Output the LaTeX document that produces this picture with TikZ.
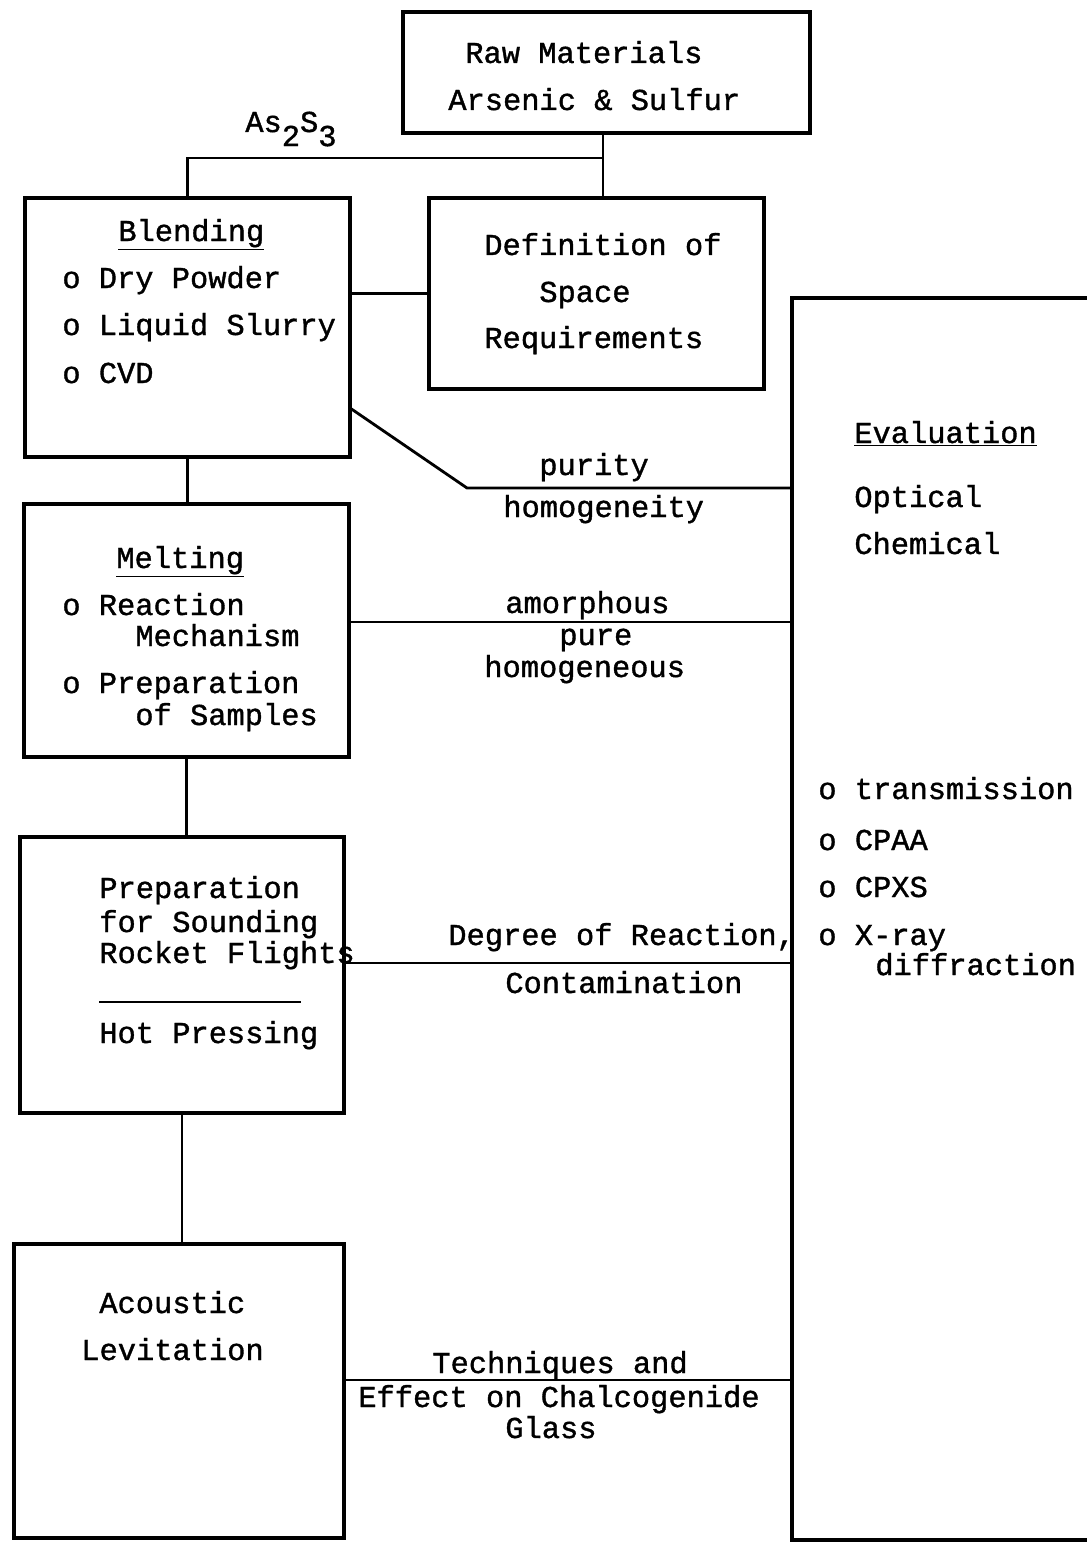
\documentclass[tikz,border=0pt]{standalone}
\usepackage{fontspec}
\setmonofont[FakeBold=1.2]{Liberation Mono}
\usepackage{tikz}

\begin{document}
\begin{tikzpicture}[x=0.02cm, y=-0.02cm,
    font=\ttfamily\fontsize{17.3}{20}\selectfont,
    box/.style={draw, line width=2pt, inner sep=0pt},
    txt/.style={inner sep=0pt, anchor=base west},
    link/.style={line width=1.6pt}]
        \useasboundingbox (0,0) rectangle (1087,1544);
        % Boxes
        \node[box, minimum width=8.14cm, minimum height=2.42cm] (raw) at (606.5,72.5) {};
        \node[box, minimum width=6.5cm, minimum height=5.18cm] (blend) at (187.5,327.5) {};
        \node[box, minimum width=6.7cm, minimum height=3.82cm] (defn) at (596.5,293.5) {};
        \node[box, minimum width=6.5cm, minimum height=5.06cm] (melt) at (186.5,630.5) {};
        \node[box, minimum width=6.48cm, minimum height=5.52cm] (prep) at (182,975) {};
        \node[box, minimum width=6.6cm, minimum height=5.88cm] (acou) at (179,1391) {};
        \node[box, minimum width=6.06cm, minimum height=24.84cm] (eval) at (943.5,919) {};
        % Raw materials
        \node[txt] (rawa) at (465,63) {Raw Materials};
        \node[txt] (rawb) at (448,110) {Arsenic \& Sulfur};
        % Blending
        \node[txt] (bla) at (118,241) {\underline{Blending}};
        \node[txt] (blb) at (62,288) {o Dry Powder};
        \node[txt] (blc) at (62,335) {o Liquid Slurry};
        \node[txt] (bld) at (62,383) {o CVD};
        % Definition of space requirements
        \node[txt] (dfa) at (484,255) {Definition of};
        \node[txt] (dfb) at (539,302) {Space};
        \node[txt] (dfc) at (484,348) {Requirements};
        % Melting
        \node[txt] (mla) at (116,568) {\underline{Melting}};
        \node[txt] (mlb) at (62,615) {o Reaction};
        \node[txt] (mlc) at (135,646) {Mechanism};
        \node[txt] (mld) at (62,693) {o Preparation};
        \node[txt] (mle) at (135,725) {of Samples};
        % Sounding rocket flights
        \node[txt] (ppa) at (99,898) {Preparation};
        \node[txt] (ppb) at (99,932) {for Sounding};
        \node[txt] (ppc) at (99,963) {Rocket Flights};
        \draw[line width=1.4pt] (99,1002) -- (301,1002);
        \node[txt] (ppd) at (99,1043) {Hot Pressing};
        % Acoustic levitation
        \node[txt] (aca) at (99,1313) {Acoustic};
        \node[txt] (acb) at (81,1360) {Levitation};
        % Evaluation
        \node[txt] (eva) at (854,443) {\underline{Evaluation}};
        \node[txt] (evb) at (854,507) {Optical};
        \node[txt] (evc) at (854,554) {Chemical};
        \node[txt] (evd) at (818,799) {o transmission};
        \node[txt] (eve) at (818,850) {o CPAA};
        \node[txt] (evf) at (818,897) {o CPXS};
        \node[txt] (evg) at (818,945) {o X-ray};
        \node[txt] (evh) at (875,975) {diffraction};
        % Tree from the raw materials
        \coordinate (split) at (603,158);
        \draw[link] (raw.south -| split) -- (split |- defn.north);
        \draw[link] (split) -| (blend.north);
        \node[txt] (as) at (245,132) {As\raisebox{-8pt}{2}S\raisebox{-8pt}{3}};
        \draw[link] (blend.east |- defn.west) -- (defn.west);
        \draw[link] (blend.south) -- (blend.south |- melt.north);
        \draw[link] (melt.south) -- (melt.south |- prep.north);
        \draw[link] (prep.south) -- (prep.south |- acou.north);
        % Links to the evaluation
        \coordinate (bout) at (350,408);
        \coordinate (kink) at (467,488);
        \draw[link] (bout) -- (kink) -- (kink -| eval.west);
        \node[txt] (lpa) at (539,475) {purity};
        \node[txt] (lpb) at (503,517) {homogeneity};
        \draw[link] ([yshift=0.17cm]melt.east) -- ([yshift=0.17cm]melt.east -| eval.west);
        \node[txt] (lma) at (505,613) {amorphous};
        \node[txt] (lmb) at (559,645) {pure};
        \node[txt] (lmc) at (484,677) {homogeneous};
        \draw[link] ([yshift=0.24cm]prep.east) -- ([yshift=0.24cm]prep.east -| eval.west);
        \node[txt] (lra) at (448,945) {Degree of Reaction,};
        \node[txt] (lrb) at (505,993) {Contamination};
        \draw[link] ([yshift=0.22cm]acou.east) -- ([yshift=0.22cm]acou.east -| eval.west);
        \node[txt] (laa) at (432,1373) {Techniques and};
        \node[txt] (lab) at (358,1407) {Effect on Chalcogenide};
        \node[txt] (lac) at (505,1438) {Glass};
    \end{tikzpicture}
\end{document}
